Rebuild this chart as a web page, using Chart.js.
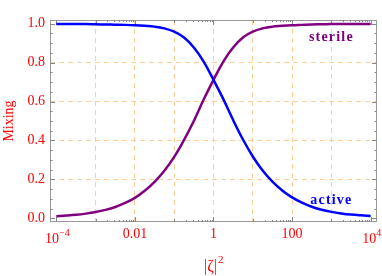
<!DOCTYPE html>
<html>
<head>
<meta charset="utf-8">
<script src="https://cdn.jsdelivr.net/npm/chart.js@4.4.1/dist/chart.umd.min.js"></script>
<style>
  html, body { margin: 0; padding: 0; background: #fff; }
  #wrap { width: 382px; height: 276px; }
</style>
</head>
<body>
<div id="wrap"><canvas id="mix"></canvas></div>
<script>
// |zeta|^2 sample points (quarter-decade steps from 1e-4 to 1e4)
const zeta2 = [1e-4, 1.78e-4, 3.16e-4, 5.62e-4, 1e-3, 1.78e-3, 3.16e-3, 5.62e-3,
  0.01, 0.0178, 0.0316, 0.0562, 0.1, 0.178, 0.316, 0.562,
  1, 1.78, 3.16, 5.62, 10, 17.8, 31.6, 56.2,
  100, 178, 316, 562, 1000, 1780, 3160, 5620, 10000];

const active = [0.998, 0.998, 0.997, 0.997, 0.996, 0.995, 0.994, 0.993,
  0.991, 0.988, 0.984, 0.975, 0.958, 0.928, 0.877, 0.805,
  0.711, 0.612, 0.505, 0.405, 0.318, 0.246, 0.189, 0.144,
  0.108, 0.081, 0.060, 0.045, 0.034, 0.026, 0.020, 0.016, 0.013];

const sterile = [0.012, 0.015, 0.019, 0.025, 0.033, 0.044, 0.059, 0.080,
  0.106, 0.142, 0.188, 0.245, 0.316, 0.403, 0.500, 0.610,
  0.711, 0.805, 0.877, 0.928, 0.958, 0.975, 0.984, 0.988,
  0.991, 0.993, 0.995, 0.996, 0.997, 0.997, 0.998, 0.998, 0.998];

const xTicks = [1e-4, 1e-3, 0.01, 0.1, 1, 10, 100, 1000, 1e4];
const xTickText = { '-2': '0.01', '0': '1', '2': '100' };
const xPowLabels = [[1e-4, '\u22124'], [1e4, '4']];   // drawn as 10 with a raised exponent
const yTicks = [0, 0.2, 0.4, 0.6, 0.8, 1.0];

const RED = '#ff0000';
const SERIF = '"Liberation Serif", "Times New Roman", serif';
const GRID = 'rgba(255,190,120,0.75)';

// frame with inward ticks on all four sides, like the original
const framePlugin = {
  id: 'frame',
  beforeDatasetsDraw(chart) {
    const { ctx, chartArea: a, scales } = chart;
    const xs = scales.x, ys = scales.y;
    ctx.save();
    ctx.lineWidth = 1;
    ctx.strokeStyle = '#999';
    ctx.strokeRect(a.left + 0.5, a.top + 0.5, a.right - a.left - 1, a.bottom - a.top - 1);
    ctx.strokeStyle = '#888';
    ctx.beginPath();
    for (let i = 0; i <= 20; i++) {
      const v = i * 0.05;
      const len = (i % 4 === 0) ? 5 : 2.5;
      const py = Math.round(ys.getPixelForValue(v)) + 0.5;
      ctx.moveTo(a.left, py); ctx.lineTo(a.left + len, py);
      ctx.moveTo(a.right, py); ctx.lineTo(a.right - len, py);
    }
    for (let e = -4; e <= 4; e++) {
      const marks = [];
      if (e % 2 === 0) marks.push([Math.pow(10, e), 5]);
      else {
        marks.push([Math.pow(10, e), 3]);
        for (let m = 2; m <= 9; m++) marks.push([m * Math.pow(10, e), 2]);
      }
      marks.forEach(([v, len]) => {
        const px = Math.round(xs.getPixelForValue(v)) + 0.5;
        ctx.moveTo(px, a.bottom); ctx.lineTo(px, a.bottom - len);
        ctx.moveTo(px, a.top); ctx.lineTo(px, a.top + len);
      });
    }
    ctx.stroke();
    ctx.restore();
  },
  afterDatasetsDraw(chart) {
    const { ctx, chartArea: a, scales } = chart;
    ctx.save();
    ctx.font = 'bold 14px ' + SERIF;
    if ('letterSpacing' in ctx) ctx.letterSpacing = '1.2px';
    ctx.textAlign = 'center';
    ctx.textBaseline = 'middle';
    ctx.fillStyle = '#800080';
    ctx.fillText('sterile', scales.x.getPixelForValue(1000), scales.y.getPixelForValue(0.93));
    ctx.fillStyle = '#0000ff';
    ctx.fillText('active', scales.x.getPixelForValue(1000), scales.y.getPixelForValue(0.094));
    if ('letterSpacing' in ctx) ctx.letterSpacing = '0px';
    // power-of-ten tick labels with a real superscript
    ctx.fillStyle = RED;
    ctx.textBaseline = 'alphabetic';
    ctx.textAlign = 'left';
    xPowLabels.forEach(([v, exp]) => {
      ctx.font = '14px ' + SERIF;
      const wb = ctx.measureText('10').width;
      ctx.font = '10px ' + SERIF;
      const we = ctx.measureText(exp).width;
      const x0 = scales.x.getPixelForValue(v) - (wb + we) / 2 + 1;
      ctx.font = '14px ' + SERIF;
      ctx.fillText('10', x0, a.bottom + 21);
      ctx.font = '10px ' + SERIF;
      ctx.fillText(exp, x0 + wb, a.bottom + 14);
    });
    // axis title |zeta|^2
    const cx = (a.left + a.right) / 2;
    ctx.font = '16px ' + SERIF;
    const wt = ctx.measureText('|\u03B6|').width;
    ctx.fillText('|\u03B6|', cx - (wt + 6) / 2, 271);
    ctx.font = '11px ' + SERIF;
    ctx.fillText('2', cx - (wt + 6) / 2 + wt + 1, 263);
    ctx.restore();
  }
};

const pts = ys => zeta2.map((x, i) => ({ x, y: ys[i] }));

new Chart(document.getElementById('mix'), {
  type: 'line',
  data: {
    datasets: [
      { label: 'active', data: pts(active), borderColor: '#0000ff', borderWidth: 2.5,
        pointRadius: 0, tension: 0.4, fill: false },
      { label: 'sterile', data: pts(sterile), borderColor: '#800080', borderWidth: 2.5,
        pointRadius: 0, tension: 0.4, fill: false }
    ]
  },
  options: {
    responsive: true,
    maintainAspectRatio: false,
    animation: false,
    layout: { padding: { top: 20, right: 5, left: 0, bottom: 0 } },
    plugins: { legend: { display: false }, tooltip: { enabled: false } },
    scales: {
      x: {
        type: 'logarithmic',
        min: 6.9e-5, max: 1.45e4,
        afterBuildTicks(s) { s.ticks = xTicks.map(v => ({ value: v })); },
        afterFit(s) { s.height = 54; },
        grid: {
          drawTicks: false,
          color: c => (c.tick && (c.tick.value === 1e-4 || c.tick.value === 1e4)) ? 'rgba(0,0,0,0)' : GRID
        },
        border: { display: false, dash: [5, 4] },
        ticks: {
          autoSkip: false, maxRotation: 0, padding: 4, color: RED,
          font: { family: SERIF, size: 14 },
          callback(v) { const e = Math.round(Math.log10(v)); return xTickText[e] || ''; }
        },
        title: { display: false }
      },
      y: {
        min: -0.018, max: 1.018,
        afterBuildTicks(s) { s.ticks = yTicks.map(v => ({ value: v })); },
        afterFit(s) { s.width = 50; },
        grid: {
          drawTicks: false,
          color: c => (c.tick && (c.tick.value < 0.1 || c.tick.value > 0.9)) ? 'rgba(0,0,0,0)' : GRID
        },
        border: { display: false, dash: [5, 4] },
        ticks: { padding: 5, color: RED, font: { family: SERIF, size: 14 },
          callback: v => v.toFixed(1) },
        title: { display: true, text: 'Mixing', color: RED,
          font: { family: SERIF, size: 14 }, padding: { top: 1, bottom: 0 } }
      }
    }
  },
  plugins: [framePlugin]
});
</script>
</body>
</html>
